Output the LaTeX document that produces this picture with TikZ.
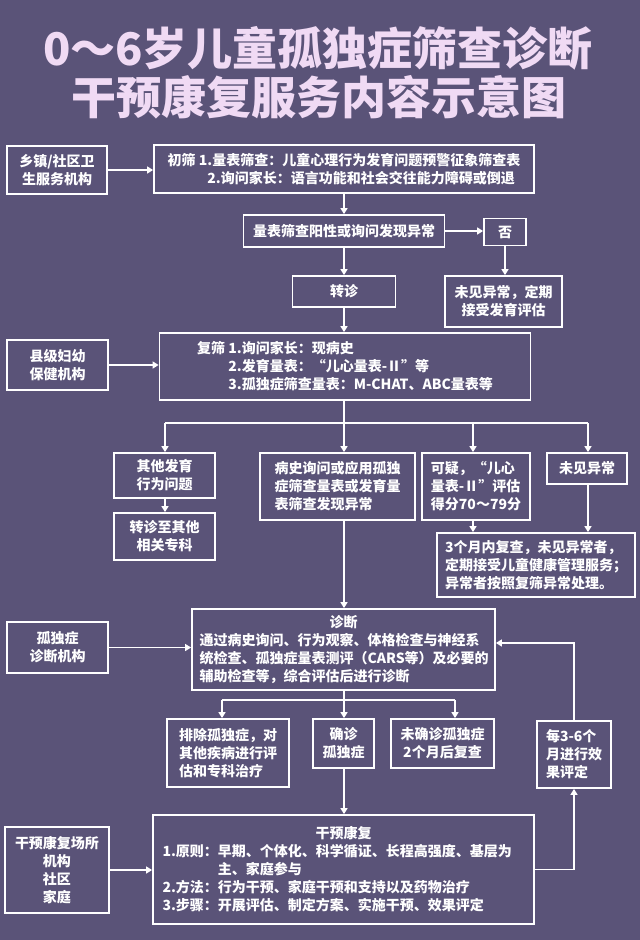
\documentclass[tikz,border=0pt]{standalone}
\usepackage{fontspec}
\setmainfont{Noto Sans CJK SC}
\usetikzlibrary{arrows.meta}
\definecolor{bg}{HTML}{5A5378}
\definecolor{ttl}{HTML}{F0DAF4}
\begin{document}
\begin{tikzpicture}[x=1pt,y=-1pt,
  box/.style={draw=white,line width=1.8pt,inner sep=0pt,text=white,
    font=\fontsize{14}{18}\selectfont\bfseries},
  arr/.style={draw=white,line width=1.8pt,-{Triangle[length=6pt,width=7pt]}},
  ln/.style={draw=white,line width=1.8pt},
  ttlfont/.style={font=\fontsize{45}{45}\selectfont\bfseries}]
\fill[bg] (0,0) rectangle (640,940);
\useasboundingbox (0,0) rectangle (640,940);
% title
\node[ttlfont,text=ttl] (t1) at (318,48) {0～6岁儿童孤独症筛查诊断};
\node[ttlfont,text=ttl] (t2) at (319,97) {干预康复服务内容示意图};
\coordinate (ax) at (344,0);
% row 1
\node[box,minimum width=100pt,minimum height=48pt,align=center] (xz) at (57,170) {乡镇/社区卫\\生服务机构};
\node[box,minimum width=380pt,minimum height=48pt,align=left] (cs) at (344,169)
  {初筛\ 1.量表筛查：儿童心理行为发育问题预警征象筛查表\\\phantom{初筛\ 1}2.询问家长：语言功能和社会交往能力障碍或倒退};
\node[box,minimum width=201pt,minimum height=32pt] (lb) at (344,231) {量表筛查阳性或询问发现异常};
\node[box,minimum width=42pt,minimum height=27pt] (no) at (505,232) {否};
\node[box,minimum width=103pt,minimum height=31pt] (zz) at (344,291.5) {转诊};
\node[box,minimum width=117pt,minimum height=51pt,align=center] (wj1) at (503.5,301.5) {未见异常，定期\\接受发育评估};
% row 2
\node[box,minimum width=101pt,minimum height=50pt,align=center] (xj) at (57.5,365) {县级妇幼\\保健机构};
\node[box,minimum width=371pt,minimum height=67pt,align=left] (fs) at (345,366.5)
  {复筛\ 1.询问家长：现病史\\\phantom{复筛\ }2.发育量表：“儿心量表-Ⅱ”等\\\phantom{复筛\ }3.孤独症筛查量表：M-CHAT、ABC量表等};
% row 3
\node[box,minimum width=101pt,minimum height=45pt,align=center] (qt) at (164.5,475.5) {其他发育\\行为问题};
\node[box,minimum width=101pt,minimum height=47pt,align=center] (zzq) at (164.5,536.5) {转诊至其他\\相关专科};
\node[box,minimum width=155pt,minimum height=67pt,align=left] (bs) at (337.5,486.5) {病史询问或应用孤独\\症筛查量表或发育量\\表筛查发现异常};
\node[box,minimum width=108pt,minimum height=67pt,align=left] (ky) at (476,486.5) {可疑，“儿心\\量表-Ⅱ”评估\\得分70～79分};
\node[box,minimum width=80pt,minimum height=31pt] (wj2) at (587,468.5) {未见异常};
\node[box,minimum width=198pt,minimum height=64pt,align=left] (sg) at (536,565) {3个月内复查，未见异常者，\\定期接受儿童健康管理服务；\\异常者按照复筛异常处理。};
% row 4
\node[box,minimum width=101pt,minimum height=51pt,align=center] (gd) at (57.5,647.5) {孤独症\\诊断机构};
\node[box,minimum width=303pt,minimum height=81pt,text width=288pt,align=left] (zd) at (343.5,649.5)
  {\makebox[\linewidth][c]{诊断}\\通过病史询问、行为观察、体格检查与神经系\\统检查、孤独症量表测评（CARS等）及必要的\\辅助检查等，综合评估后进行诊断};
\node[box,minimum width=122pt,minimum height=68pt,align=left] (pc) at (228,753) {排除孤独症，对\\其他疾病进行评\\估和专科治疗};
\node[box,minimum width=61pt,minimum height=49pt,align=center] (qz) at (343.5,743.5) {确诊\\孤独症};
\node[box,minimum width=103pt,minimum height=49pt,align=center] (wqz) at (442.5,743.5) {未确诊孤独症\\2个月后复查};
\node[box,minimum width=74pt,minimum height=67pt,align=left] (mg) at (574,754.5) {每3-6个\\月进行效\\果评定};
% row 5
\node[box,minimum width=104pt,minimum height=86pt,align=center] (gy) at (57,870) {干预康复场所\\机构\\社区\\家庭};
\node[box,minimum width=381pt,minimum height=109pt,text width=362pt,align=left] (gk) at (343.5,869.5)
  {\makebox[\linewidth][c]{干预康复}\\1.原则：早期、个体化、科学循证、长程高强度、基层为\\\phantom{1.原则：}主、家庭参与\\2.方法：行为干预、家庭干预和支持以及药物治疗\\3.步骤：开展评估、制定方案、实施干预、效果评定};
% connectors
\draw[arr] (xz.east) -- (xz.east -| cs.west);
\draw[arr] (ax |- cs.south) -- (ax |- lb.north);
\draw[arr] (lb.east) -- (lb.east -| no.west);
\draw[arr] (ax |- lb.south) -- (ax |- zz.north);
\draw[arr] (no.south) -- (no.south |- wj1.north);
\draw[arr] (ax |- zz.south) -- (ax |- fs.north);
\draw[arr] (xj.east) -- (xj.east -| fs.west);
\coordinate (bl) at (165,423);
\coordinate (br) at (588,423);
\coordinate (bk) at (473,423);
\draw[ln] (ax |- fs.south) -- (ax |- bl);
\draw[ln] (bl) -- (br);
\draw[arr] (bl) -- (bl |- qt.north);
\draw[arr] (ax |- bl) -- (ax |- bs.north);
\draw[arr] (bk) -- (bk |- ky.north);
\draw[arr] (br) -- (br |- wj2.north);
\draw[arr] (bl |- qt.south) -- (bl |- zzq.north);
\draw[arr] (bk |- ky.south) -- (bk |- sg.north);
\draw[arr] (br |- wj2.south) -- (br |- sg.north);
\draw[arr] (ax |- bs.south) -- (ax |- zd.north);
\draw[arr] (gd.east) -- (gd.east -| zd.west);
\coordinate (dl) at (222,700);
\coordinate (dr) at (455,700);
\draw[ln] (ax |- zd.south) -- (ax |- dl);
\draw[ln] (dl) -- (dr);
\draw[arr] (dl) -- (dl |- pc.north);
\draw[arr] (ax |- dl) -- (ax |- qz.north);
\draw[arr] (dr) -- (dr |- wqz.north);
\draw[arr] (ax |- qz.south) -- (ax |- gk.north);
\draw[arr] (gy.east) -- (gy.east -| gk.west);
\draw[arr] (gk.east) -| (mg.south);
\coordinate (fb) at (574,643);
\draw[arr] (mg.north) -- (fb) -- (fb -| zd.east);
\end{tikzpicture}
\end{document}
